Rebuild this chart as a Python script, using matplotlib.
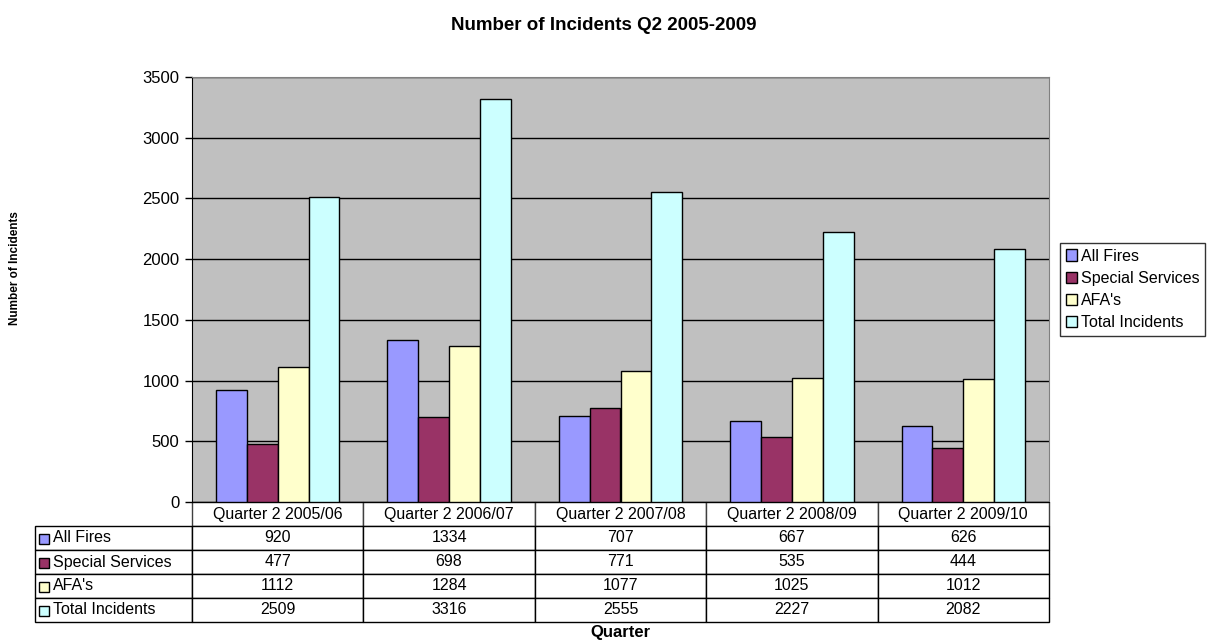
import numpy as np
import matplotlib.pyplot as plt
from matplotlib.table import Table

plt.rcParams['font.family'] = ['Liberation Sans', 'DejaVu Sans']

# Data
quarters = ['Quarter 2 2005/06', 'Quarter 2 2006/07', 'Quarter 2 2007/08',
            'Quarter 2 2008/09', 'Quarter 2 2009/10']
series = ['All Fires', 'Special Services', "AFA's", 'Total Incidents']
all_fires = [920, 1334, 707, 667, 626]
special_services = [477, 698, 771, 535, 444]
afas = [1112, 1284, 1077, 1025, 1012]
total_incidents = [2509, 3316, 2555, 2227, 2082]
colors = ['#9999FF', '#993366', '#FFFFCC', '#CCFFFF']

values = [all_fires, special_services, afas, total_incidents]

W, H = 1209, 641
fig = plt.figure(figsize=(W / 100, H / 100), dpi=100)

# plot area in pixels: x 192..1049, y 77..502
ax = fig.add_axes([192 / W, 1 - 502 / H, 857 / W, 425 / H])
ax.set_facecolor('#C0C0C0')

x = np.arange(len(quarters))
bw = 0.18
for i, (vals, c) in enumerate(zip(values, colors)):
    ax.bar(x + (i - 1.5) * bw, vals, bw, color=c, edgecolor='black',
           linewidth=1, label=series[i], zorder=3)

ax.set_xlim(-0.5, len(quarters) - 0.5)
ax.set_ylim(0, 3500)
ax.set_yticks(range(0, 3501, 500))
ax.yaxis.grid(True, color='black', linewidth=1)
ax.set_axisbelow(True)
ax.set_xticks([])
ax.tick_params(axis='y', length=5, width=1, labelsize=12, pad=4)
for s in ['top', 'right']:
    ax.spines[s].set_color('#808080')
for s in ['left', 'bottom']:
    ax.spines[s].set_color('black')

# Data table under the plot
label_w = 157
col_w = 857 / len(quarters)
row_h = 24
tbl = Table(ax, bbox=[(35 - 192) / 857, -120 / 425, (1049 - 35) / 857, 120 / 425])
tbl.auto_set_font_size(False)
# header row
c = tbl.add_cell(0, 0, width=label_w, height=row_h, text='')
c.visible_edges = ''
for j, q in enumerate(quarters):
    c = tbl.add_cell(0, j + 1, width=col_w, height=row_h, text=q, loc='center')
    c.set_edgecolor('#404040')
for i, name in enumerate(series):
    c = tbl.add_cell(i + 1, 0, width=label_w, height=row_h, text=name, loc='left')
    c.PAD = 18 / label_w
    for j, v in enumerate(values[i]):
        tbl.add_cell(i + 1, j + 1, width=col_w, height=row_h, text=str(v), loc='center')
for cell in tbl.get_celld().values():
    cell.set_linewidth(1)
    cell.get_text().set_fontsize(11.5)
ax.add_table(tbl)

# legend keys in the row-label column
for i, col in enumerate(colors):
    yc = 538.5 + i * row_h
    ax.plot([(44 - 192) / 857], [(502 - yc) / 425], marker='s', markersize=7.5,
            markerfacecolor=col, markeredgecolor='black', markeredgewidth=1,
            transform=ax.transAxes, clip_on=False, linestyle='none')

# Legend
fig.legend(loc='upper left', bbox_to_anchor=(1060 / W, 1 - 243 / H),
           fontsize=11.5, frameon=True, fancybox=False, edgecolor='black',
           handlelength=0.7, handleheight=0.7, handletextpad=0.25,
           labelspacing=0.45, borderpad=0.35, borderaxespad=0)

fig.text(604 / W, 1 - 26 / H, 'Number of Incidents Q2 2005-2009',
         ha='center', va='center', fontsize=13.5, fontweight='bold')
fig.text(620 / W, 1 - 632 / H, 'Quarter', ha='center', va='center',
         fontsize=12, fontweight='bold')
fig.text(15 / W, 1 - 268 / H, 'Number of Incidents', ha='center', va='center',
         rotation=90, fontsize=8.5, fontweight='bold')

plt.savefig('out.png', dpi=100)
